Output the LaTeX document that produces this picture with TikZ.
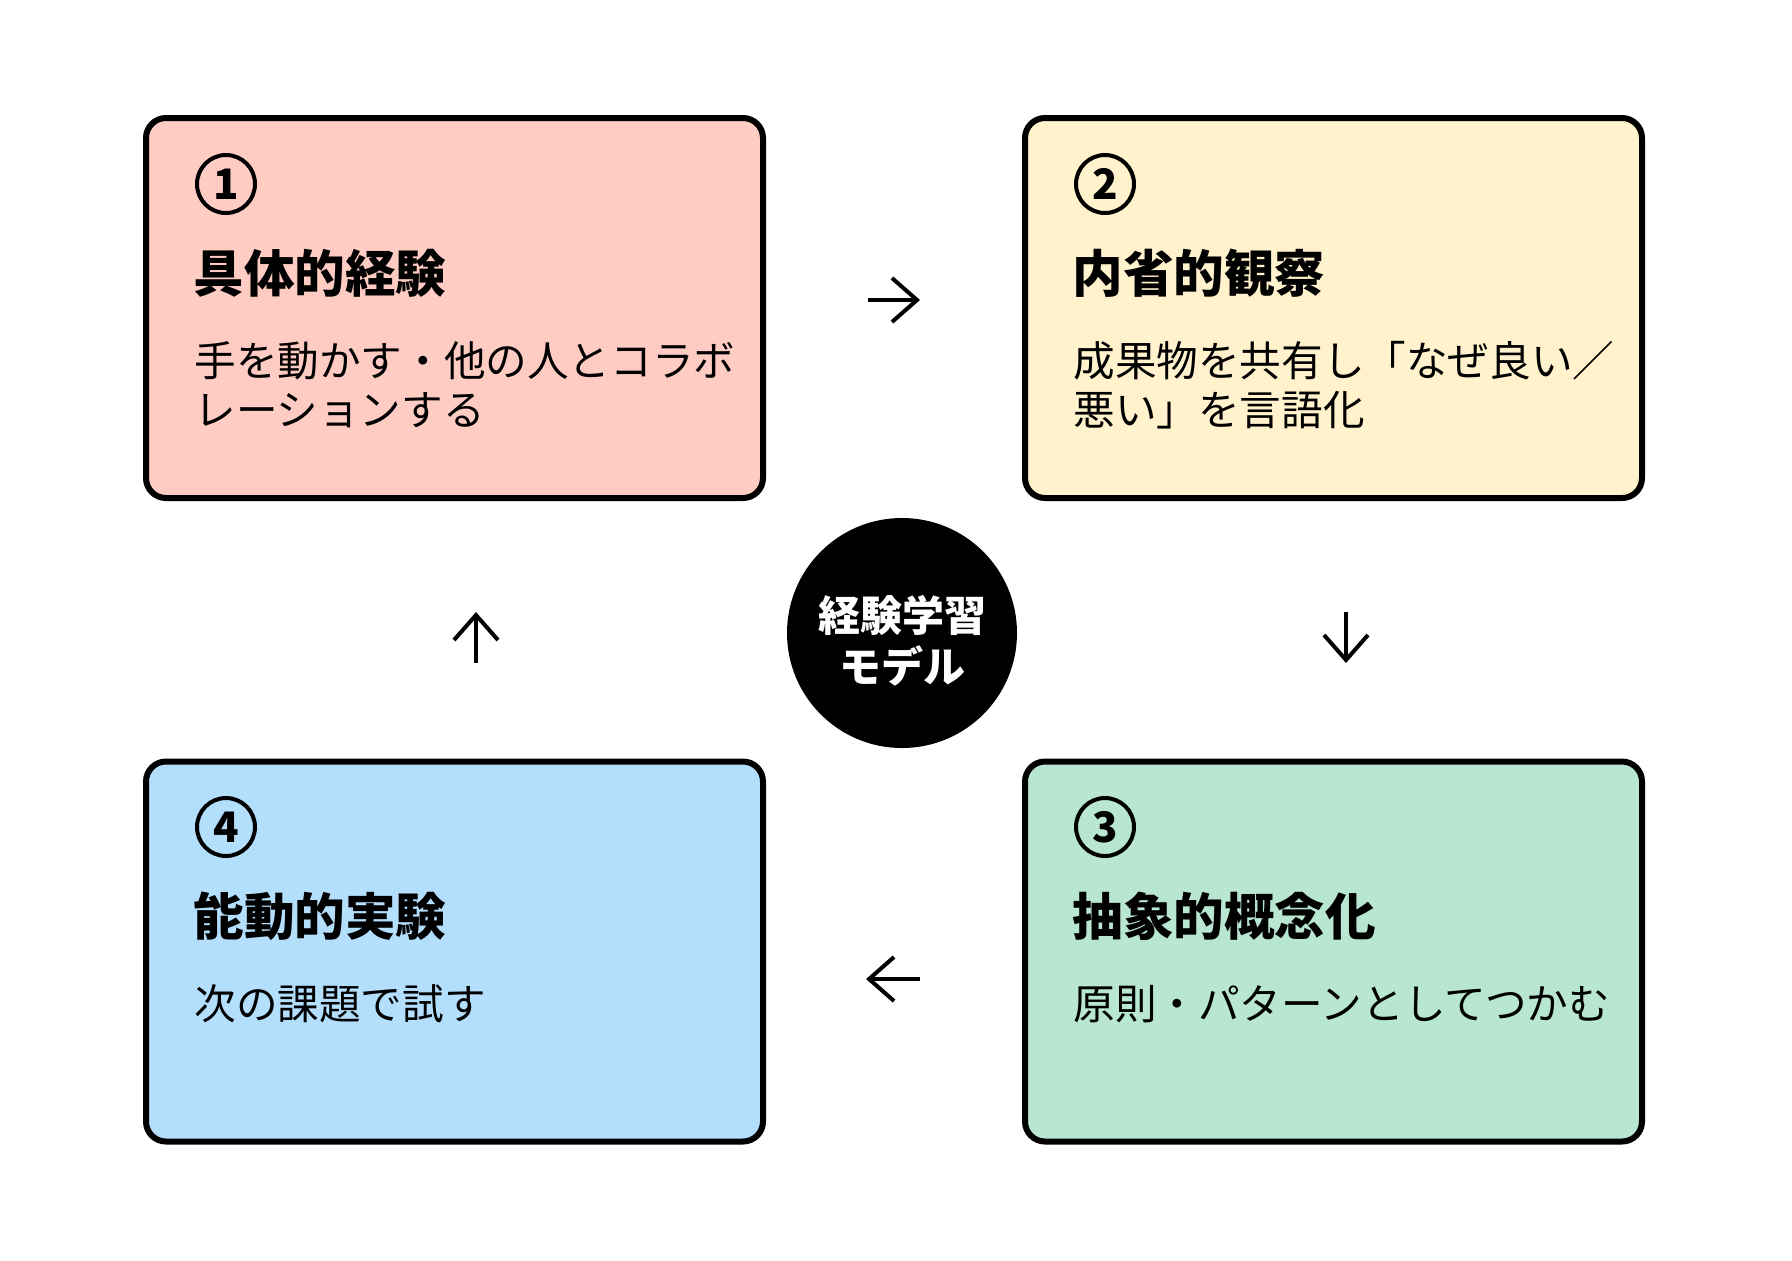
\documentclass[tikz,border=0pt]{standalone}
\usepackage{fontspec}
\newfontfamily\jpfont{Noto Sans CJK JP}
\usetikzlibrary{arrows.meta}

\definecolor{stagePink}{RGB}{255,204,196}
\definecolor{stageYellow}{RGB}{255,242,204}
\definecolor{stageGreen}{RGB}{184,230,208}
\definecolor{stageBlue}{RGB}{179,222,252}

\begin{document}
\begin{tikzpicture}[x=0.5pt,y=-0.5pt,
    stage/.style={draw,line width=3pt,rounded corners=10pt,minimum width=308.5pt,minimum height=190pt},
    stepnum/.style={circle,draw,line width=2pt,minimum size=29pt,inner sep=0pt,font=\jpfont\bfseries\fontsize{21}{21}\selectfont},
    stagetitle/.style={anchor=base west,inner sep=0pt,font=\jpfont\bfseries\fontsize{25.3}{30}\selectfont},
    stagetext/.style={anchor=base west,inner sep=0pt,align=left,font=\jpfont\fontsize{20.8}{24.5}\selectfont},
    cyclearrow/.style={-{Straight Barb[length=12.5pt,width=22pt]},line width=2pt}]
            \useasboundingbox[fill=white] (0,0) rectangle (1792,1260);

            \node[stage,fill=stagePink] (Concrete Experience) at (454.5,308) {};
            \node[stage,fill=stageYellow] (Reflective Observation) at (1333.5,308) {};
            \node[stage,fill=stageGreen] (Abstract Conceptualization) at (1333.5,951.5) {};
            \node[stage,fill=stageBlue] (Active Experimentation) at (454.5,951.5) {};

            % base of a two-line text is its last line
            \node[stepnum] (Num 1) at (226,184) {1};
            \node[stagetitle] (Title 1) at (193,292) {具体的経験};
            \node[stagetext] (Text 1) at (194,425) {手を動かす・他の人とコラボ\\レーションする};

            \node[stepnum] (Num 2) at (1105,184) {2};
            \node[stagetitle] (Title 2) at (1072,292) {内省的観察};
            \node[stagetext] (Text 2) at (1073,425) {成果物を共有し「なぜ良い／\\悪い」を言語化};

            \node[stepnum] (Num 3) at (1105,827) {3};
            \node[stagetitle] (Title 3) at (1072,935) {抽象的概念化};
            \node[stagetext] (Text 3) at (1073,1019) {原則・パターンとしてつかむ};

            \node[stepnum] (Num 4) at (226,827) {4};
            \node[stagetitle] (Title 4) at (193,935) {能動的実験};
            \node[stagetext] (Text 4) at (194,1019) {次の課題で試す};

            \node[circle,fill=black,minimum size=115pt,inner sep=0pt] (Model) at (902,633) {};
            \node[text=white,align=center,inner sep=0pt,
                font=\jpfont\bfseries\fontsize{21}{25.5}\selectfont] (Model Text) at (902,641) {経験学習\\モデル};

            \coordinate (CE out) at (868,300);
            \coordinate (RO in) at (920,300);
            \coordinate (RO out) at (1346,612);
            \coordinate (AC in) at (1346,663);
            \coordinate (AC out) at (920,979);
            \coordinate (AE in) at (866,979);
            \coordinate (AE out) at (476,663);
            \coordinate (CE in) at (476,612);

            \draw[cyclearrow] (CE out) -- (RO in);
            \draw[cyclearrow] (RO out) -- (AC in);
            \draw[cyclearrow] (AC out) -- (AE in);
            \draw[cyclearrow] (AE out) -- (CE in);
        \end{tikzpicture}
\end{document}
